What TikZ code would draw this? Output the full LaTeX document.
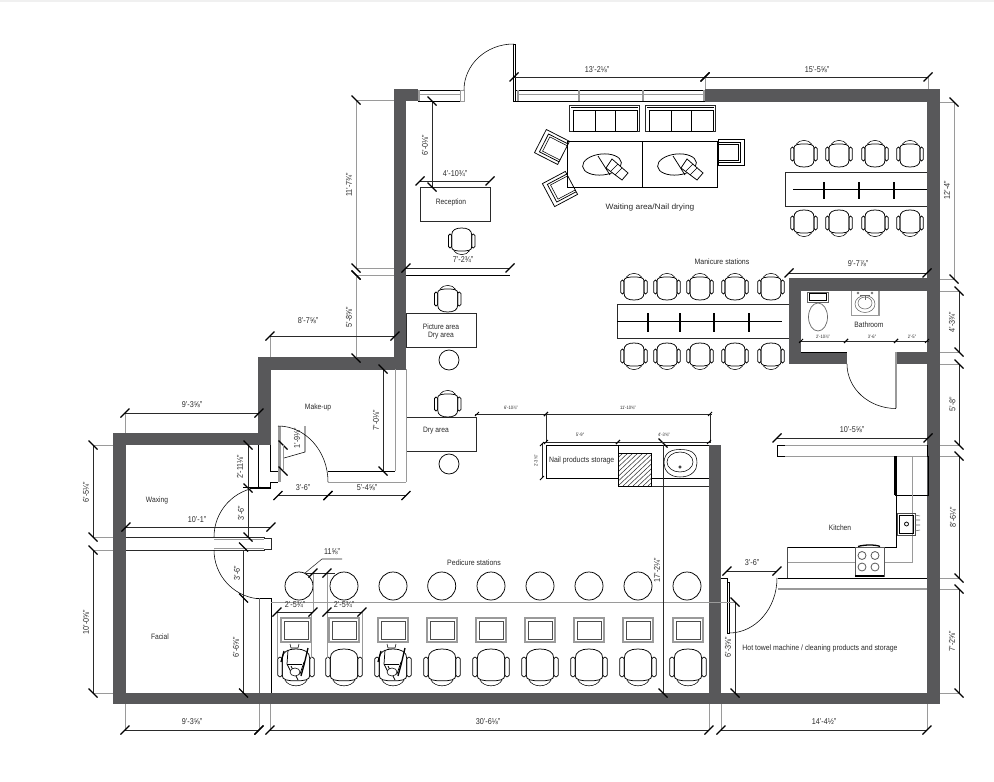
\documentclass[tikz,border=0pt]{standalone}
\usepackage{fontspec}
\setmainfont{Liberation Sans}[FakeStretch=0.86]
\definecolor{wallc}{HTML}{58585A}
\definecolor{ltg}{HTML}{9A9A9A}
\definecolor{ink}{HTML}{2A2A2A}
\tikzset{
  wallfill/.style={fill=wallc,draw=none},
  dl/.style={draw=ink,line width=0.55pt},
  lead/.style={draw=ltg,line width=0.7pt},
  tkm/.style={draw=black,line width=1.15pt},
  tks/.style={draw=black,line width=0.9pt},
  thin line/.style={draw=black,line width=0.55pt},
  med/.style={draw=black,line width=0.75pt},
  heavy/.style={draw=black,line width=1.3pt},
  glin/.style={draw=ltg,line width=0.9pt},
  glinb/.style={draw=ltg,line width=1.6pt},
  dimtext/.style={font=\fontsize{8.4}{9}\selectfont,text=ink,inner sep=0pt},
  roomtext/.style={font=\fontsize{7.8}{9}\selectfont,text=ink,inner sep=0pt,align=center},
  smalltext/.style={font=\fontsize{4.8}{5}\selectfont,text=ink,inner sep=0pt},
}
\newcount\lbn
\newcommand{\tkA}[2]{\draw[tkm] ({#1-4.5},{#2+4.5}) -- ({#1+4.5},{#2-4.5});}
\newcommand{\tkB}[2]{\draw[tkm] ({#1-4.5},{#2-4.5}) -- ({#1+4.5},{#2+4.5});}
\newcommand{\tkS}[2]{\draw[tks] ({#1-2},{#2+2}) -- ({#1+2},{#2-2});}
\newcommand{\dimH}[3]{\draw[dl] (#1,#3) -- (#2,#3); \tkA{#1}{#3} \tkA{#2}{#3}}
\newcommand{\dimS}[3]{\draw[dl] ({#1-2},#3) -- ({#2+2},#3); \tkS{#1}{#3} \tkS{#2}{#3}}
\newcommand{\dimV}[3]{\draw[dl] (#1,#2) -- (#1,#3); \tkB{#1}{#2} \tkB{#1}{#3}}
\newcommand{\dimG}[3]{\draw[glin] (#1,#2) -- (#1,#3); \tkB{#1}{#2} \tkB{#1}{#3}}
\newcommand{\txH}[3]{\global\advance\lbn by 1 \node[dimtext] (d\the\lbn) at (#1,#2) {#3};}
\newcommand{\txV}[3]{\global\advance\lbn by 1 \node[dimtext,rotate=90] (d\the\lbn) at (#1,#2) {#3};}
\newcommand{\txS}[3]{\global\advance\lbn by 1 \node[smalltext] (d\the\lbn) at (#1,#2) {#3};}
\newcommand{\room}[4][1]{\global\advance\lbn by 1 \node[roomtext,xscale=#1] (d\the\lbn) at (#2,#3) {#4};}
\newcommand{\chairU}[4]{\begin{scope}[shift={(#1,#2)},rotate=#3,scale=#4]
  \draw[med] (-10,-6) .. controls (-10,-9.5) and (-6,-10) .. (0,-10) .. controls (6,-10) and (10,-9.5) .. (10,-6) -- (10,6) .. controls (10,11) and (6,13) .. (0,13) .. controls (-6,13) and (-10,11) .. (-10,6) -- cycle;
  \draw[thin line] (-8,-9.5) .. controls (-5,-15) and (5,-15) .. (8,-9.5);
  \draw[med,rounded corners=1.5] (-13.2,-7) rectangle (-10,7);
  \draw[med,rounded corners=1.5] (10,-7) rectangle (13.2,7);
\end{scope}}
\newcommand{\armC}[3]{\begin{scope}[shift={(#1,#2)},rotate=#3]
  \draw[med] (-13,-13) rectangle (13,13);
  \draw[med] (-13,-10) -- (9,-10) -- (9,10) -- (-13,10);
  \draw[thin line] (-13,-8) -- (6.5,-8) -- (6.5,8) -- (-13,8);
\end{scope}}
\newcommand{\ottoman}[1]{\draw[glin,line width=1.2pt] ({#1-15},618) rectangle ({#1+15},642);
  \draw[thin line,draw=black!70] ({#1-12},621) rectangle ({#1+12},639);}
\newcommand{\person}[1]{\begin{scope}[xshift=#1 pt]
  \draw[thin line] (-6,644) -- (-5,648) -- (2,648) -- (3,644);
  \draw[med] (-8,650) -- (-9,664) -- (-4,674) -- (4,674) -- (8,662);
  \draw[med] (-9,664) -- (6,664);
  \draw[med] (-5,666) -- (2,680);
  \draw[heavy] (12,648) -- (8,665) -- (5,676);
  \draw[heavy] (-12,651) -- (-15,662);
  \draw[thin line,fill=white] (-1,672) ellipse (5 and 4);
\end{scope}}
\newcommand{\magz}[1]{\begin{scope}[xshift=#1 pt]
  \draw[med,rotate around={6:(602,164.5)}] (602,164.5) ellipse (19.5 and 10.5);
  \draw[med] (598,156) -- (610,175);
  \draw[med,fill=white] (606,168) -- (612,159) -- (628,173) -- (622,180) -- cycle;
  \draw[thin line] (611,171) -- (618,164) ;
  \draw[thin line] (615,175) -- (622,168);
\end{scope}}
\begin{document}
\begin{tikzpicture}[x=1pt,y=-1pt,line join=miter]
\useasboundingbox (0,0) rectangle (994,782);
\fill[white] (0,0) rectangle (994,782);
\fill[black!6] (0,0) rectangle (994,1.5);
%% ---- leaders ----
\draw[lead] (705,77) -- (705,89);
\draw[lead] (928,77) -- (928,90);
\draw[lead] (927,102) -- (954,102);
\draw[lead] (927,279) -- (954,279);
\draw[lead] (927,291) -- (959,291);
\draw[lead] (927,352) -- (959,352);
\draw[lead] (927,364) -- (959,364);
\draw[lead] (927,445) -- (959,445);
\draw[lead] (927,456) -- (959,456);
\draw[lead] (927,578) -- (959,578);
\draw[lead] (927,589) -- (959,589);
\draw[lead] (927,693) -- (959,693);
\draw[lead] (125,413) -- (125,433);
\draw[lead] (259,413) -- (259,433);
\draw[lead] (93,445) -- (113,445);
\draw[lead] (93,537) -- (113,537);
\draw[lead] (93,550) -- (113,550);
\draw[lead] (93,693) -- (113,693);
\draw[lead] (356,100) -- (394,100);
\draw[lead] (356,268) -- (394,268);
\draw[lead] (356,275) -- (394,275);
\draw[lead] (270,336) -- (270,357);
\draw[lead] (356,358) -- (394,358);
\draw[lead] (395,336) -- (395,358);
\foreach \xx in {125,259,270,709,721,927} {\draw[lead] (\xx,704) -- (\xx,730);}
%% ---- walls ----
\fill[wallfill] (394,89) rectangle (418,101);
\fill[wallfill] (394,89) rectangle (406,369.5);
\fill[wallfill] (258,357) rectangle (406,369.5);
\fill[wallfill] (258,357) rectangle (271,445);
\fill[wallfill] (113,433) rectangle (271,445);
\fill[wallfill] (113,433) rectangle (126,704);
\fill[wallfill] (113,693) rectangle (940,704);
\fill[wallfill] (705,89) rectangle (940,102);
\fill[wallfill] (927,89) rectangle (940,704);
\fill[wallfill] (709,445) rectangle (721,704);
\fill[wallfill] (789,278) rectangle (940,291);
\fill[wallfill] (789,278) rectangle (801,364);
\fill[wallfill] (789,352) rectangle (847,364);
\fill[wallfill] (896,352) rectangle (927,364);
%% ---- windows and entry door ----
\draw[thin line] (418,90) -- (463,90) (418,101) -- (463,101);
\draw[glin] (418,94) -- (460,94);
\draw[glinb] (419,90) -- (419,101);
\draw[thin line,draw=ltg] (460,90) rectangle (464,101);
\draw[thin line] (516,90) -- (705,90) (516,101) -- (705,101);
\draw[glin] (517,94) -- (705,94);
\draw[glinb] (518,90) -- (518,101);
\draw[glinb] (579,90) -- (579,101);
\draw[glinb] (643,90) -- (643,101);
\draw[glinb] (704,90) -- (704,101);
\draw[thin line] (513,44) -- (515,44) -- (515,101) -- (513,101) -- cycle;
\draw[thin line] (464,90) arc[start angle=180,end angle=270,x radius=49.5,y radius=46];
%% ---- waiting area ----
\foreach \xs in {0,76} {
\begin{scope}[xshift=\xs pt]
  \draw[thin line,draw=ink] (569,105) rectangle (639,131);
  \draw[med] (573,131) -- (573,110) -- (637,110) -- (637,131);
  \draw[thin line] (571,107.5) -- (638,107.5);
  \draw[med] (595,110) -- (595,131) (615,110) -- (615,131);
  \draw[med] (573,131) -- (637,131);
\end{scope}}
\draw[med] (567,141) rectangle (717,187);
\draw[med] (642,141) -- (642,187);
\magz{0}\magz{75}
\armC{552}{147}{153}
\armC{560}{189}{208}
\armC{731.5}{152}{0}
\room[1.25]{650}{207}{Waiting area/Nail drying}
%% ---- manicure 1 ----
\draw[draw=ink,line width=0.7pt] (927,172) -- (785,172) -- (785,206) -- (927,206);
\draw[heavy] (793,189.5) -- (927,189.5);
\foreach \xx in {824,859,894} {\draw[heavy] (\xx,182) -- (\xx,199);}
\foreach \xx in {804,839,875,910} {\chairU{\xx}{154}{0}{1} \chairU{\xx}{223}{180}{1}}
\room[1.04]{722}{262}{Manicure stations}
%% ---- manicure 2 ----
\draw[draw=ink,line width=0.7pt] (789,304) -- (617,304) -- (617,338) -- (789,338);
\draw[heavy] (617,321.7) -- (782,321.7);
\foreach \xx in {648,680,714,749} {\draw[heavy] (\xx,313) -- (\xx,332);}
\foreach \xx in {634,667,700,735,771} {\chairU{\xx}{287}{0}{1} \chairU{\xx}{356}{180}{1}}
%% ---- reception ----
\draw[draw=ink,line width=0.7pt] (420,187) rectangle (490,221);
\room{451}{202}{Reception}
\chairU{461.7}{241}{180}{1}
\draw[med] (406,268) -- (510,268);
\draw[med] (406,275) -- (510,275);
%% ---- picture and dry area ----
\draw[draw=ink,line width=0.7pt] (406,313) rectangle (476.5,347);
\room{441}{331.5}{Picture area\\[-0.5pt]Dry area}
\chairU{447.7}{299}{0}{1}
\draw[med] (449,360) circle (10);
\draw[draw=ink,line width=0.7pt] (406,417) rectangle (476.5,451);
\room{436}{431}{Dry area}
\chairU{447.7}{404}{0}{1}
\draw[med] (449,464) circle (10);
%% ---- make-up ----
\draw[glin] (395,369) -- (395,471);
\draw[glin] (406,369) -- (406,482);
\draw[thin line] (328,471) -- (395,471);
\draw[glin] (328,482) -- (406,482);
\draw[thin line] (270,445) -- (270,471) -- (278,471);
\draw[thin line] (258,445) -- (258,488);
\draw[thin line] (250,488) -- (270,488) -- (270,482) -- (278,482);
\draw[glinb,line width=2.5pt] (279.5,426) -- (279.5,482);
\draw[thin line] (278,426) arc[start angle=-90,end angle=0,x radius=50,y radius=56];
\draw[thin line] (284,458) -- (305,452) -- (305,426);
\room{318}{407}{Make-up}
%% ---- waxing / facial partition ----
\draw[glin,draw=ink,line width=0.7pt] (126,537) -- (264,537) -- (264,538) -- (271,538) -- (271,549) -- (264,549) -- (264,550) -- (126,550);
\draw[glin] (214,539.5) -- (264,539.5);
\draw[glin] (214,548) -- (264,548);
\draw[thin line] (214,537) arc[start angle=180,end angle=266,radius=50];
\draw[thin line] (214,550) arc[start angle=180,end angle=97,radius=49];
\draw[thin line] (243,487) -- (271,487);
\draw[thin line] (256,598) -- (271,598);
\draw[glin,draw=black!60] (259,598) -- (259,693);
\draw[thin line] (271,598) -- (271,693);
\draw[dl] (243.5,550) -- (243.5,693);
\draw[dl] (248,445) -- (248,537);
\room{157}{500}{Waxing}
\room{160}{637}{Facial}
%% ---- pedicure ----
\draw[glin] (271,602) -- (709,602);
\foreach \xx in {299,344,393,441.7,491,540,589,638,687} {\draw[med] (\xx,586) circle (14);}
\foreach \xx in {296,344,393,442,491,540,589,638,688} {\ottoman{\xx} \chairU{\xx}{667}{180}{1.38}}
\person{296}\person{393}
\foreach \xx in {277,311,327,362} {\draw[lead] (\xx,612) -- (\xx,658);}
\foreach \xx in {313,327} {\draw[lead] (\xx,573) -- (\xx,612);}
\draw[dl] (305,573) -- (322,559) -- (342,559);
\draw[dl] (305,573) -- (335,573);
\tkA{313}{573} \tkA{327}{573}
\room[1.04]{474}{563}{Pedicure stations}
%% ---- nail products ----
\draw[thin line] (546,445) -- (709,445);
\draw[thin line] (546,445) -- (546,478) -- (618,478);
\draw[thin line] (618,445) -- (618,453);
\begin{scope}
  \clip (618,453) rectangle (651.5,486);
  \foreach \k in {0,5,...,70} {\draw[ink,line width=0.5pt] ({618+\k-35},486) -- ({618+\k},453);}
\end{scope}
\draw[med] (618,453) rectangle (651.5,486);
\draw[thin line] (651.5,478.5) -- (709,478.5);
\draw[glin,draw=ink] (651.5,486) -- (709,486);
\draw[dl] (663,445) -- (663,693);
\draw[thin line,fill=white] (664,463) .. controls (664,452) and (672,449.5) .. (680,449.5) .. controls (690,449.5) and (697,452) .. (697,463) .. controls (697,470) and (692,477) .. (680,477) .. controls (669,477) and (664,470) .. (664,463) -- cycle;
\draw[thin line] (680,462) ellipse (13 and 10);
\draw[thin line] (680,467) circle (1.2);
\room[1.03]{581.7}{460}{Nail products storage}
%% ---- bathroom ----
\draw[glin,draw=black!60] (807,292) rectangle (828,302);
\draw[thin line] (809,293.5) rectangle (826,300.5);
\draw[glin,draw=black!60,line width=0.7pt] (818,317) ellipse (9.5 and 14);
\draw[glinb,draw=ltg,line width=1.6pt] (851.5,291) -- (851.5,315.5) -- (879,315.5) -- (879,291);
\draw[thin line,draw=black!60] (865,304) ellipse (10 and 8.5);
\draw[thin line,draw=black!60] (865,303) ellipse (7 and 6);
\draw[thin line,draw=black!60] (860,295) -- (870,295) (865,295) -- (865,300);
\draw[thin line,draw=black!60] (858,293) circle (1) (872,293) circle (1);
\room{869}{325}{Bathroom}
\draw[glinb,line width=1.6pt] (896,352) -- (896,408);
\draw[thin line] (847,364) arc[start angle=180,end angle=90,x radius=49,y radius=44.5];
\draw[thin line] (801,352) -- (847,352);
%% ---- kitchen ----
\draw[thin line] (777,445) rectangle (927,456);
\draw[glin] (785,445) -- (927,445);
\draw[glin] (785,456) -- (927,456);
\draw[heavy] (895,456) -- (895,495);
\draw[med] (895,495.5) -- (928,495.5);
\draw[med] (928,456) -- (928,495.5);
\draw[glin] (912,456) -- (912,562) -- (787,562);
\draw[med] (896,456) -- (896,547) -- (787,547);
\draw[glin,draw=black!70] (787,547) -- (787,578);
\draw[glin,draw=black!70] (897.5,513) rectangle (915,535);
\draw[thin line] (899.5,515) rectangle (913,533);
\draw[med,fill=white] (906.5,524) circle (2);
\draw[thin line,draw=black!60] (915,515) -- (920,516) (915,520) -- (920,520) (915,525) -- (920,525) (915,531) -- (920,530);
\draw[fill=white,glin,draw=black!65] (855,547) rectangle (884,576);
\draw[heavy] (855,576) -- (884,576);
\draw[heavy] (858,546.5) .. controls (864,544.5) and (876,544.5) .. (880,546.5);
\foreach \p/\q/\rr in {862/555.5/4,875/555.5/4,862/567/4,875/567/4} {\draw[draw=black!65,line width=0.8pt] (\p,\q) circle (\rr);}
\room{840}{528}{Kitchen}
\draw[thin line] (778,578) -- (927,578);
\draw[glin,line width=1.2pt] (778,589) -- (927,589);
%% ---- hot towel room ----
\draw[thin line] (721,578) -- (727,578) -- (727,582) -- (729,582) -- (729,633) -- (727,633) -- (727,582);
\draw[thin line] (777,578) arc[start angle=0,end angle=90,x radius=48,y radius=55];
\draw[lead] (709,602) -- (735,602);
\room[1.03]{820}{648}{Hot towel machine / cleaning products and storage}
%% ---- dimensions ----
\dimH{514}{705}{77}
\txH{597}{70}{13'-2⅛"}
\dimH{705}{928}{77}
\txH{817}{70}{15'-5⅝"}
\dimG{954}{102}{279}
\txV{947}{190}{12'-4"}
\dimV{959}{291}{352}
\txV{952}{322}{4'-3¾"}
\dimV{959}{364}{445}
\txV{952.5}{404}{5'-8"}
\dimV{959}{456}{578}
\txV{953}{517}{8'-6¼"}
\dimV{959}{589}{693}
\txV{952}{641}{7'-2⅝"}
\dimH{789}{927}{273}
\txH{858}{264}{9'-7⅞"}
\dimH{777}{928}{438}
\txH{852}{430}{10'-5⅝"}
\dimS{801}{846}{341}
\dimS{846}{896}{341}
\dimS{896}{927}{341}
\txS{823}{336.5}{2'-10⅞"}
\txS{872}{336.5}{3'-6"}
\txS{912}{336.5}{2'-5"}
\dimH{420}{490}{181}
\txH{455}{174}{4'-10¾"}
\dimV{432}{101}{187}
\txV{425}{145}{6'-0⅛"}
\dimH{406}{510}{268}
\txH{463}{260}{7'-2¾"}
\dimG{356}{100}{268}
\tkB{356}{275}
\txV{349}{185}{11'-7¾"}
\dimG{356}{275}{358}
\txV{349}{317}{5'-8⅝"}
\dimH{270}{395}{336}
\txH{308}{321}{8'-7⅝"}
\dimV{383}{369}{471}
\txV{376}{420}{7'-0⅛"}
\dimH{278}{328}{495.5}
\dimH{328}{406}{495.5}
\txH{303}{488}{3'-6"}
\txH{367}{488}{5'-4⅝"}
\tkB{283}{445} \tkB{283}{471}
\draw[lead] (283,445) -- (283,471);
\txV{297}{438}{1'-9⅛"}
\dimH{125}{259}{413}
\txH{192}{405}{9'-3⅝"}
\dimH{125}{259}{730}
\txH{192}{722}{9'-3⅝"}
\dimH{270}{709}{730}
\tkA{259}{730}
\txH{488}{722}{30'-6⅛"}
\dimH{721}{927}{730}
\txH{824}{722}{14'-4½"}
\dimV{93}{445}{537}
\txV{86}{492}{6'-5¼"}
\dimV{93}{550}{693}
\txV{86}{622}{10'-0⅝"}
\dimH{126}{271}{527}
\txH{197}{520}{10'-1"}
\tkB{248}{445} \tkB{248}{488} \tkB{248}{537}
\txV{240}{467}{2'-11⅛"}
\txV{241}{513}{3'-6"}
\tkB{243.5}{547} \tkB{243.5}{598} \tkB{243.5}{693}
\txV{237}{573}{3'-6"}
\txV{236}{647}{6'-6⅝"}
\txH{332}{552}{11⅝"}
\dimH{277}{313}{612}
\txH{295}{605}{2'-5¾"}
\dimH{327}{362}{612}
\txH{344}{605}{2'-5¾"}
\txV{657}{570}{17'-2¼"}
\tkB{663}{443} \tkB{663}{693}
\dimH{727}{777}{571}
\txH{752}{563}{3'-6"}
\dimV{735}{602}{693}
\txV{728}{647}{6'-3⅝"}
\dimS{477}{546}{414}
\dimS{546}{710}{414}
\txS{511}{408}{6'-10⅞"}
\txS{628}{408}{11'-10⅝"}
\draw[dl] (546,414) -- (546,442);
\draw[dl] (710,414) -- (710,442);
\dimS{546}{618}{442}
\dimS{618}{709}{442}
\txS{580}{435}{5'-9"}
\txS{664}{435}{4'-3⅝"}
\draw[dl] (542,444) -- (542,478);
\tkS{542}{444} \tkS{542}{478}
\node[smalltext,rotate=90] (d200) at (536,461) {2'-3⅜"};
\end{tikzpicture}
\end{document}
